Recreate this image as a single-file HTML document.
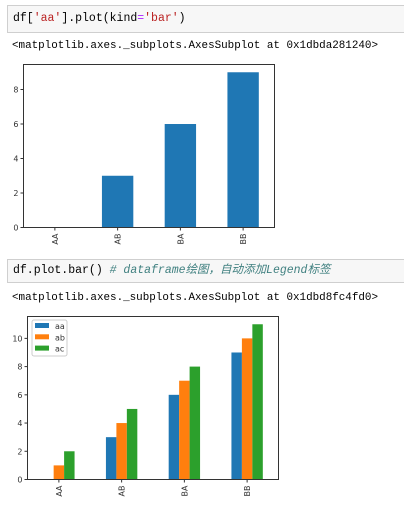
<!DOCTYPE html>
<html><head><meta charset="utf-8"><style>
body{margin:0;background:#fff;width:404px;height:507px;overflow:hidden;position:relative;font-family:"Liberation Mono","Noto Sans CJK SC",monospace}
.cell{position:absolute;left:7px;width:400px;background:#f7f7f7;border:1px solid #cfcfcf;box-sizing:border-box;font-size:11.5px;padding-left:5px;line-height:26px;white-space:nowrap}
.out{position:absolute;left:12px;font-size:10.9px;color:#000;white-space:nowrap}
svg{position:absolute;left:0;top:0}
svg text{font-family:"DejaVu Sans",sans-serif;font-size:8px;fill:#333}
</style></head><body>
<div class="cell" style="top:5px;height:28px">df[<span style="color:#ba2121">'aa'</span>].plot(kind<span style="color:#aa22ff">=</span><span style="color:#ba2121">'bar'</span>)</div>
<div class="out" style="top:40px">&lt;matplotlib.axes._subplots.AxesSubplot at 0x1dbda281240&gt;</div>
<div class="cell" style="top:259px;height:24px;line-height:22px">df.plot.bar()  <span style="color:#408080;font-style:italic"># dataframe绘图，自动添加Legend标签</span></div>
<div class="out" style="top:292px">&lt;matplotlib.axes._subplots.AxesSubplot at 0x1dbd8fc4fd0&gt;</div>
<svg width="404" height="507" id="svg"></svg>
<script>
const categories=["AA","AB","BA","BB"];
const seriesNames=["aa","ab","ac"];
const chart1Values=[0,3,6,9];
const aaValues=[0,3,6,9];
const abValues=[1,4,7,10];
const acValues=[2,5,8,11];
const ticks1=[0,2,4,6,8];
const ticks2=[0,2,4,6,8,10];
const colors=["#1f77b4","#ff7f0e","#2ca02c"];
const svg=document.getElementById('svg');
const NS="http://www.w3.org/2000/svg";
function mk(t,a){const e=document.createElementNS(NS,t);for(const k in a)e.setAttribute(k,a[k]);svg.appendChild(e);return e;}
function axes(L,R,T,B,ymax,ticks){
  const y=v=>B-(v/ymax)*(B-T);
  const step=(R-L)/categories.length;
  const x=i=>L+step*(i+0.5);
  ticks.forEach(t=>{
    const l=mk('line',{x1:L-3,x2:L,y1:y(t),y2:y(t),stroke:'#333','stroke-width':1});
    
    
    const tx=mk('text',{x:L-5,y:y(t)+3,'text-anchor':'end'});tx.textContent=t;
    
    
  });
  categories.forEach((c,i)=>{
    mk('line',{x1:x(i),x2:x(i),y1:B,y2:B+3,stroke:'#333'});
    const tx=mk('text',{x:0,y:0,'text-anchor':'end',transform:`translate(${x(i)+3},${B+6}) rotate(-90)`});tx.textContent=c;
    
    
  });
  return {x,y,step};
}
function frame(L,R,T,B,name){
  const r=mk('rect',{x:L,y:T,width:R-L,height:B-T,fill:'none',stroke:'#333','stroke-width':1});
  
  
}
{const L=23.5,R=274.5,T=64.5,B=227.5;
 const a=axes(L,R,T,B,9.45,ticks1);
 chart1Values.forEach((v,i)=>{const w=a.step*0.5;
  const r=mk('rect',{x:a.x(i)-w/2,y:a.y(v),width:w,height:B-a.y(v),fill:colors[0]});
  
  });
 frame(L,R,T,B,'chart1-axes');}
{const L=27.5,R=278.5,T=316.5,B=479.5;
 const a=axes(L,R,T,B,11.55,ticks2);
 const series=[aaValues,abValues,acValues];
 const w=a.step*0.5/3;
 series.forEach((s,j)=>s.forEach((v,i)=>{
  const r=mk('rect',{x:a.x(i)-1.5*w+j*w,y:a.y(v),width:w,height:B-a.y(v),fill:colors[j]});
  
  }));
 frame(L,R,T,B,'chart2-axes');
 const lg=mk('rect',{x:32,y:320,width:35,height:36,fill:'#fff',stroke:'#ccc','stroke-width':1,rx:2});
 
 
 seriesNames.forEach((n,j)=>{
  const sw=mk('rect',{x:35,y:323+j*11.3,width:14,height:5,fill:colors[j]});
  
  
  const t=mk('text',{x:55,y:329+j*11.3});t.textContent=n;
  
  });}
</script>
</body></html>
